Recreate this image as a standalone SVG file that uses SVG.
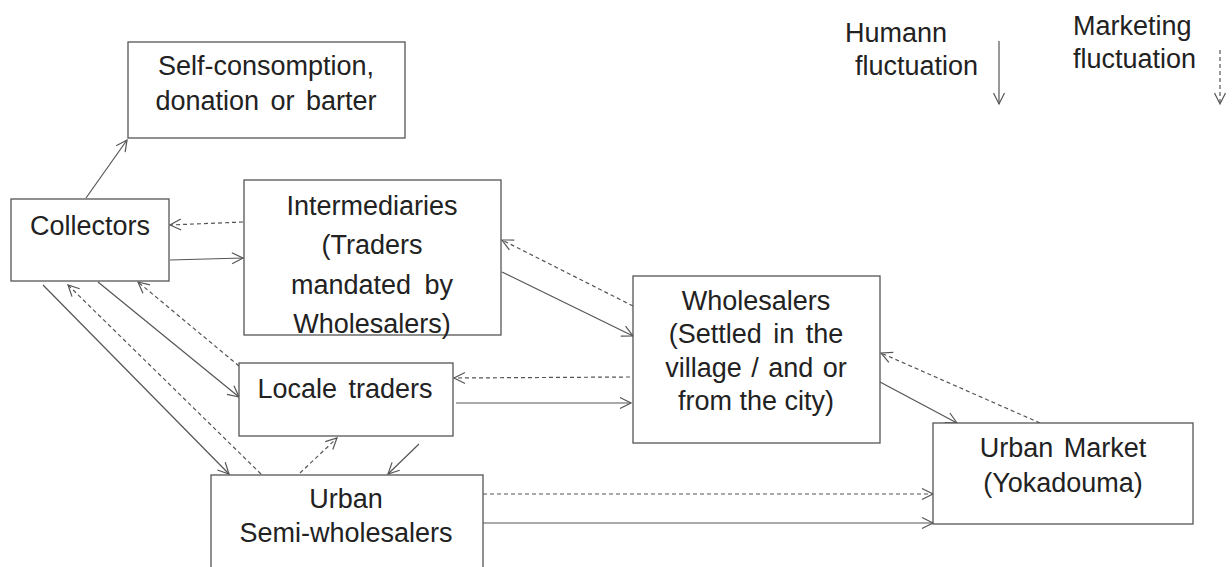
<svg xmlns="http://www.w3.org/2000/svg" width="1232" height="567" viewBox="0 0 1232 567">
<defs>
<style>
.box{fill:#fff;stroke:#555;stroke-width:1.3}
.t{font-family:"Liberation Sans",Arial,sans-serif;font-size:27px;fill:#222;text-anchor:middle}
.tl{font-family:"Liberation Sans",Arial,sans-serif;font-size:27px;fill:#222}
.s{stroke:#555;stroke-width:1.2;fill:none;marker-end:url(#ah)}
.d{stroke:#555;stroke-width:1.2;fill:none;stroke-dasharray:4 3;marker-end:url(#ah)}
</style>
<marker id="ah" markerUnits="userSpaceOnUse" markerWidth="14" markerHeight="14" viewBox="0 0 14 14" refX="12" refY="7" orient="auto">
<path d="M1,1.5 L12,7 L1,12.5" fill="none" stroke="#555" stroke-width="1.2"/>
</marker>
</defs>
<rect width="1232" height="567" fill="#fff"/>
<g id="connectors">
<line class="s" x1="86" y1="198" x2="127" y2="140"/>
<line class="d" x1="243" y1="222" x2="170" y2="225"/>
<line class="s" x1="170" y1="260" x2="243" y2="258"/>
<line class="s" x1="98" y1="282" x2="239" y2="397"/>
<line class="d" x1="239" y1="366" x2="138" y2="282"/>
<line class="s" x1="43" y1="285" x2="229" y2="474"/>
<line class="d" x1="261" y1="474" x2="68" y2="285"/>
<line class="d" x1="300" y1="473" x2="337" y2="438"/>
<line class="s" x1="419" y1="444" x2="388" y2="474"/>
<line class="s" x1="502" y1="272" x2="633" y2="336"/>
<line class="d" x1="633" y1="306" x2="502" y2="240"/>
<line class="d" x1="630" y1="377" x2="454" y2="378"/>
<line class="s" x1="456" y1="403" x2="631" y2="403"/>
<line class="s" x1="880" y1="382" x2="957" y2="423"/>
<line class="d" x1="1040" y1="423" x2="881" y2="353"/>
<line class="d" x1="483" y1="494" x2="933" y2="494"/>
<line class="s" x1="483" y1="523" x2="933" y2="523"/>
<line class="s" x1="999" y1="41" x2="999" y2="104"/>
<line class="d" x1="1220" y1="50" x2="1220" y2="104"/>
</g>
<g id="self-consumption">
<rect class="box" x="128" y="42" width="277" height="96"/>
<text class="t" x="266" y="75">Self-consomption,</text>
<text class="t" x="266" y="110" word-spacing="4">donation or barter</text>
</g>
<g id="collectors">
<rect class="box" x="11" y="199" width="158" height="82"/>
<text class="t" x="90" y="235">Collectors</text>
</g>
<g id="intermediaries">
<rect class="box" x="244" y="180" width="257" height="155"/>
<text class="t" x="372" y="215">Intermediaries</text>
<text class="t" x="372" y="254">(Traders</text>
<text class="t" x="372" y="294" word-spacing="6">mandated by</text>
<text class="t" x="372" y="333">Wholesalers)</text>
</g>
<g id="locale-traders">
<rect class="box" x="239" y="363" width="214" height="73"/>
<text class="t" x="345" y="398" word-spacing="4">Locale traders</text>
</g>
<g id="urban-semi-wholesalers">
<rect class="box" x="211" y="475" width="272" height="100"/>
<text class="t" x="346" y="508">Urban</text>
<text class="t" x="346" y="542">Semi-wholesalers</text>
</g>
<g id="wholesalers">
<rect class="box" x="633" y="276" width="247" height="167"/>
<text class="t" x="756" y="310">Wholesalers</text>
<text class="t" x="756" y="343" word-spacing="4">(Settled in the</text>
<text class="t" x="756" y="377" word-spacing="2">village / and or</text>
<text class="t" x="756" y="410">from the city)</text>
</g>
<g id="urban-market">
<rect class="box" x="933" y="423" width="260" height="101"/>
<text class="t" x="1063" y="457" word-spacing="3">Urban Market</text>
<text class="t" x="1063" y="492">(Yokadouma)</text>
</g>
<g id="legend">
<text class="tl" x="845" y="42">Humann</text>
<text class="tl" x="855" y="75">fluctuation</text>
<text class="tl" x="1073" y="35">Marketing</text>
<text class="tl" x="1073" y="68">fluctuation</text>
</g>
</svg>
